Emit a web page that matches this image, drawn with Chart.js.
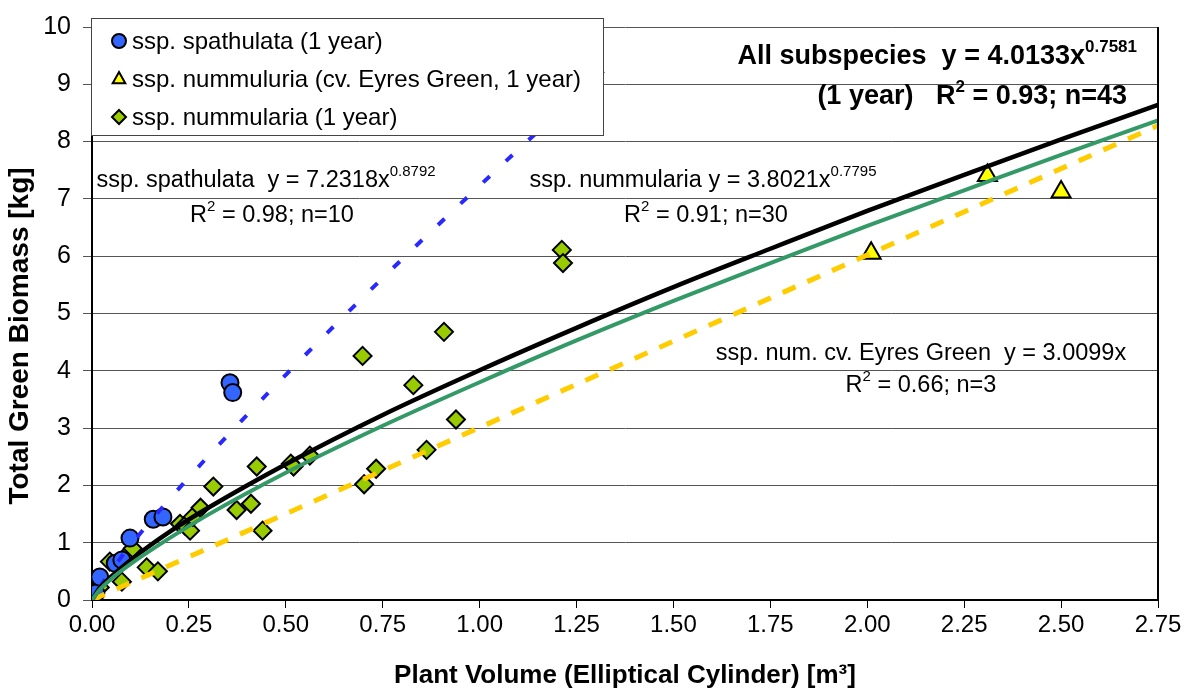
<!DOCTYPE html>
<html>
<head>
<meta charset="utf-8">
<script src="https://cdn.jsdelivr.net/npm/chart.js@4.4.1/dist/chart.umd.min.js"></script>
<style>
  html, body { margin: 0; padding: 0; background: #fff; }
  #wrap { width: 1194px; height: 693px; }
</style>
</head>
<body>
<div id="wrap"><canvas id="graph" width="1194" height="693"></canvas></div>
<script>
const FONT = '"Liberation Sans", Arial, sans-serif'

const blue =    'rgb(51, 102, 255)'
const yellow =  'rgb(255, 255, 0)'
const lime =    'rgb(153, 204, 0)'
const dashBlue = 'rgb(40, 40, 255)'
const gold =    'rgb(255, 204, 0)'
const teal =    'rgb(51, 153, 102)'
const black =   'rgb(0, 0, 0)'

// ssp. spathulata (1 year), n=10
const spathX = [0.000, 0.010, 0.020, 0.060, 0.077, 0.098, 0.158, 0.183, 0.356, 0.363]
const spathY = [0.04, 0.12, 0.40, 0.64, 0.70, 1.08, 1.41, 1.45, 3.79, 3.62]

// ssp. nummuluria cv. Eyres Green (1 year), n=3
const eyresX = [2.01, 2.31, 2.50]
const eyresY = [6.05, 7.41, 7.12]

// ssp. nummularia (1 year), n=30
const nummX = [0.003, 0.020, 0.046, 0.077, 0.100, 0.105, 0.141, 0.170, 0.227, 0.240,
               0.253, 0.260, 0.280, 0.313, 0.373, 0.410, 0.425, 0.440, 0.513, 0.520,
               0.562, 0.698, 0.702, 0.733, 0.829, 0.863, 0.908, 0.939, 1.212, 1.215]
const nummY = [0.12, 0.22, 0.67, 0.32, 0.85, 0.90, 0.57, 0.50, 1.33, 1.30,
               1.21, 1.45, 1.61, 1.98, 1.57, 1.68, 2.33, 1.21, 2.38, 2.33,
               2.52, 4.26, 2.02, 2.29, 3.75, 2.62, 4.68, 3.15, 6.11, 5.88]

// trend lines
const trendX =    [0, 0.02, 0.05, 0.1, 0.2, 0.3, 0.5, 0.75, 1.0, 1.25, 1.5, 1.75, 2.0, 2.25, 2.5, 2.75]
const allY =      [0, 0.21, 0.41, 0.70, 1.19, 1.61, 2.37, 3.23, 4.01, 4.75, 5.46, 6.13, 6.79, 7.42, 8.04, 8.64]
const nummTrendY = [0, 0.18, 0.37, 0.63, 1.08, 1.49, 2.22, 3.04, 3.80, 4.53, 5.22, 5.88, 6.53, 7.15, 7.77, 8.37]
const spathTrendX = [0.02, 0.05, 0.1, 0.2, 0.3, 0.5, 0.75, 1.0, 1.25, 1.35]
const spathTrendY = [0.23, 0.52, 0.96, 1.76, 2.51, 3.93, 5.62, 7.23, 8.80, 9.42]
const eyresTrendX = [0, 2.75]
const eyresTrendY = [0, 8.28]

const xTicks = [0, 0.25, 0.5, 0.75, 1.0, 1.25, 1.5, 1.75, 2.0, 2.25, 2.5, 2.75]

const yTitle = 'Total Green Biomass [kg]'
const xTitle = 'Plant Volume (Elliptical Cylinder) [m³]'

const legendItems = [
    {label: 'ssp. spathulata (1 year)', style: 'circle', fill: blue},
    {label: 'ssp. nummuluria (cv. Eyres Green, 1 year)', style: 'triangle', fill: yellow},
    {label: 'ssp. nummularia (1 year)', style: 'rectRot', fill: lime},
]

// [text, superscript] pieces, position, font
const notes = [
    {parts: [['All subspecies  y = 4.0133x'], ['0.7581', true]], x: 1137, y: 64, align: 'right', bold: true, size: 27},
    {parts: [['(1 year)   R'], ['2', true], [' = 0.93; n=43']], x: 1127, y: 104, align: 'right', bold: true, size: 27},
    {parts: [['ssp. spathulata  y = 7.2318x'], ['0.8792', true]], x: 266, y: 187, align: 'center', size: 23.5},
    {parts: [['R'], ['2', true], [' = 0.98; n=10']], x: 272, y: 222, align: 'center', size: 23.5},
    {parts: [['ssp. nummularia y = 3.8021x'], ['0.7795', true]], x: 703, y: 187, align: 'center', size: 23.5},
    {parts: [['R'], ['2', true], [' = 0.91; n=30']], x: 706, y: 222, align: 'center', size: 23.5},
    {parts: [['ssp. num. cv. Eyres Green  y = 3.0099x']], x: 921, y: 360, align: 'center', size: 23.5},
    {parts: [['R'], ['2', true], [' = 0.66; n=3']], x: 921, y: 392, align: 'center', size: 23.5},
]

function pts(xs, ys) {
    return xs.map((x, i) => ({x: x, y: ys[i]}))
}

function richText(ctx, note) {
    const w = note.bold ? 'bold ' : ''
    const big = w + note.size + 'px ' + FONT
    const small = w + Math.round(note.size * 0.62) + 'px ' + FONT
    let total = 0
    for (const p of note.parts) {
        ctx.font = p[1] ? small : big
        total += ctx.measureText(p[0]).width
    }
    let x = note.x
    if (note.align === 'right') x -= total
    if (note.align === 'center') x -= total / 2
    ctx.fillStyle = black
    ctx.textAlign = 'left'
    ctx.textBaseline = 'alphabetic'
    for (const p of note.parts) {
        ctx.font = p[1] ? small : big
        ctx.fillText(p[0], x, p[1] ? note.y - note.size * 0.45 : note.y)
        x += ctx.measureText(p[0]).width
    }
}

function marker(ctx, style, fill, x, y, r) {
    ctx.beginPath()
    if (style === 'circle') {
        ctx.arc(x, y, r, 0, Math.PI * 2)
    } else if (style === 'triangle') {
        ctx.moveTo(x, y - r)
        ctx.lineTo(x + r * 0.9, y + r * 0.6)
        ctx.lineTo(x - r * 0.9, y + r * 0.6)
        ctx.closePath()
    } else {
        ctx.moveTo(x, y - r)
        ctx.lineTo(x + r, y)
        ctx.lineTo(x, y + r)
        ctx.lineTo(x - r, y)
        ctx.closePath()
    }
    ctx.fillStyle = fill
    ctx.fill()
    ctx.lineWidth = 2
    ctx.strokeStyle = black
    ctx.stroke()
}

const overlay = {
    id: 'overlay',
    afterDraw(chart) {
        const ctx = chart.ctx
        const a = chart.chartArea
        ctx.save()
        //right frame line
        ctx.strokeStyle = black
        ctx.lineWidth = 2
        ctx.beginPath()
        ctx.moveTo(a.right, a.top)
        ctx.lineTo(a.right, a.bottom)
        ctx.stroke()

        //y axis title (a little taller than the x title in the original)
        ctx.save()
        ctx.translate(20, 336)
        ctx.rotate(-Math.PI / 2)
        ctx.font = 'bold 28px ' + FONT
        ctx.fillStyle = black
        ctx.textAlign = 'center'
        ctx.textBaseline = 'middle'
        ctx.fillText(yTitle, 0, 0)
        ctx.restore()

        //legend box
        ctx.fillStyle = '#fff'
        ctx.fillRect(91, 18, 513, 117)
        ctx.strokeStyle = '#444'
        ctx.lineWidth = 1
        ctx.strokeRect(91.5, 18.5, 512, 117)
        legendItems.forEach((it, i) => {
            const cy = 41 + i * 38
            marker(ctx, it.style, it.fill, 119, cy, 7)
            ctx.font = '24px ' + FONT
            ctx.fillStyle = black
            ctx.textBaseline = 'middle'
            ctx.textAlign = 'left'
            ctx.fillText(it.label, 132, cy + 1)
        })

        for (const n of notes) richText(ctx, n)
        ctx.restore()
    }
}

const pointSet = (label, data, style, fill, r) => ({
    label: label,
    data: data,
    showLine: false,
    pointStyle: style,
    pointRadius: r,
    pointBackgroundColor: fill,
    pointBorderColor: black,
    pointBorderWidth: 2,
    order: 10,
})

const lineSet = (label, data, color, width, dash, order) => ({
    label: label,
    data: data,
    showLine: true,
    borderColor: color,
    borderWidth: width,
    borderDash: dash,
    pointRadius: 0,
    cubicInterpolationMode: 'monotone',
    fill: false,
    order: order,
})

new Chart(document.getElementById('graph'), {
    type: 'scatter',
    data: {
        datasets: [
            pointSet('ssp. spathulata (1 year)', pts(spathX, spathY), 'circle', blue, 8.5),
            pointSet('ssp. nummuluria (cv. Eyres Green, 1 year)', pts(eyresX, eyresY), 'triangle', yellow, 11),
            pointSet('ssp. nummularia (1 year)', pts(nummX, nummY), 'rectRot', lime, 9),
            lineSet('Eyres Green trend', pts(eyresTrendX, eyresTrendY), gold, 5, [14, 13], 5),
            lineSet('spathulata trend', pts(spathTrendX, spathTrendY), dashBlue, 4, [9, 22], 4),
            lineSet('All subspecies trend', pts(trendX, allY), black, 4.5, [], 3),
            lineSet('nummularia trend', pts(trendX, nummTrendY), teal, 4, [], 2),
        ]
    },
    options: {
        responsive: false,
        devicePixelRatio: 1,
        animation: false,
        layout: {padding: {top: 20, right: 36, left: 0, bottom: 0}},
        plugins: {
            legend: {display: false},
            tooltip: {enabled: false},
        },
        scales: {
            x: {
                type: 'linear',
                min: 0,
                max: 2.75,
                afterBuildTicks: (s) => { s.ticks = xTicks.map(v => ({value: v})) },
                afterFit: (s) => { s.height = 93 },
                ticks: {
                    color: black,
                    font: {family: FONT, size: 24},
                    padding: 3,
                    maxRotation: 0,
                    callback: (v) => Number(v).toFixed(2),
                },
                grid: {drawOnChartArea: false, tickLength: 8, color: black, lineWidth: 1},
                border: {color: black, width: 2},
                title: {
                    display: true,
                    text: xTitle,
                    color: black,
                    font: {family: FONT, size: 26, weight: 'bold'},
                    padding: {top: 2, bottom: 2},
                },
            },
            y: {
                min: 0,
                max: 10,
                afterFit: (s) => { s.width = 92 },
                ticks: {
                    stepSize: 1,
                    color: black,
                    font: {family: FONT, size: 25},
                    padding: 12,
                },
                grid: {color: '#555', lineWidth: 1, tickLength: 9},
                border: {color: black, width: 2},
                title: {display: false},
            },
        },
    },
    plugins: [overlay],
});
</script>
</body>
</html>
